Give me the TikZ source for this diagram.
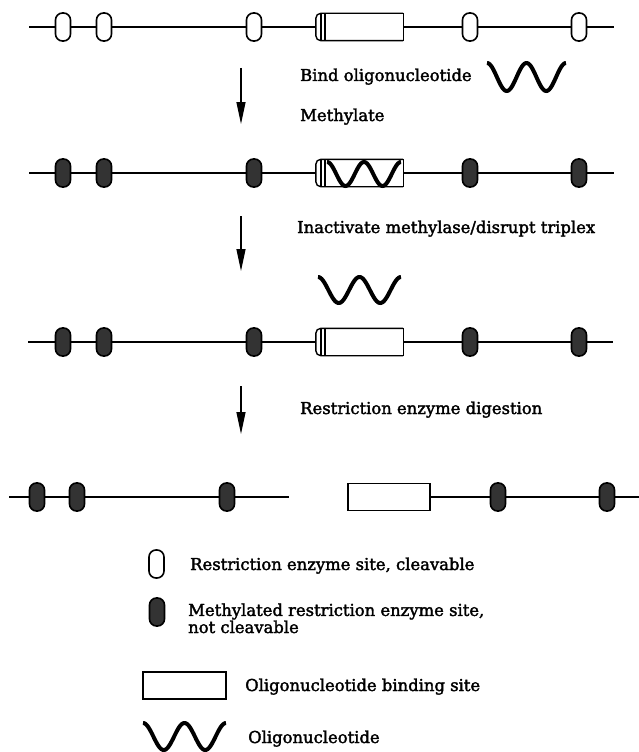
\documentclass[tikz,border=0pt]{standalone}
\usepackage{fontspec}
\setmainfont{DejaVu Serif}[FakeBold=2]
\usetikzlibrary{arrows.meta}
\newcommand\oligo[4]{\draw[wave] plot[domain=0:1,samples=90,smooth,variable=\u] ({#1+#3*\u},{#2+#4*(1-cos(720*\u))/2});}
\newcommand\capbox[1]{%
  \draw[boxline, rounded corners=5pt] (#1.north east) -- (#1.north west) -- (#1.south west) -- (#1.south east);
  \draw[boxline] (#1.south east) -- (#1.north east);
  \draw[boxline] ([xshift=5pt]#1.north west) -- ([xshift=5pt]#1.south west);
  \draw[boxline] ([xshift=9pt]#1.north west) -- ([xshift=9pt]#1.south west);}
\begin{document}
\begin{tikzpicture}[x=1pt,y=-1pt,
  dna/.style={line width=2.7pt},
  site/.style={draw, line width=1.6pt, fill=white, rounded corners=7pt, minimum width=15pt, minimum height=28pt, inner sep=0pt},
  msite/.style={site, fill=black!80},
  bindbox/.style={minimum width=87pt, minimum height=27pt, inner sep=0pt, fill=white},
  plainbox/.style={draw, line width=1.4pt, fill=white, minimum width=82pt, minimum height=27pt, inner sep=0pt},
  boxline/.style={line width=1.4pt},
  wave/.style={line width=4pt},
  flow/.style={line width=1.3pt, -{Triangle[length=22pt,width=9pt]}},
  lbl/.style={anchor=base west, inner sep=0pt, font=\fontsize{16.4}{15.5}\selectfont},
]
\useasboundingbox[fill=white] (0,0) rectangle (639,752);

% ---------- row 1 ----------
\coordinate (r1L) at (29,27); \coordinate (r1R) at (614,27);
\draw[dna] (r1L) -- (r1R);
\node[site] (s11) at (63,27) {};
\node[site] (s12) at (104,27) {};
\node[site] (s13) at (254,27) {};
\node[bindbox] (b1) at (359.5,27) {};
\capbox{b1}
\node[site] (s14) at (470,27) {};
\node[site] (s15) at (579,27) {};

\coordinate (a1s) at (241,68); \coordinate (a1e) at (241,124);
\draw[flow] (a1s) -- (a1e);
\node[lbl] (t1) at (300,81) {Bind oligonucleotide};
\oligo{487}{63}{79}{28}
\node[lbl] (t2) at (300,121) {Methylate};

% ---------- row 2 ----------
\coordinate (r2L) at (29,173); \coordinate (r2R) at (614,173);
\draw[dna] (r2L) -- (r2R);
\node[msite] (s21) at (63,173) {};
\node[msite] (s22) at (104,173) {};
\node[msite] (s23) at (254,173) {};
\node[bindbox] (b2) at (359.5,173) {};
\oligo{327}{162}{74}{24}
\capbox{b2}
\node[msite] (s24) at (470,173) {};
\node[msite] (s25) at (579,173) {};

\coordinate (a2s) at (241,216); \coordinate (a2e) at (241,271);
\draw[flow] (a2s) -- (a2e);
\node[lbl] (t3) at (297,233) {Inactivate methylase/disrupt triplex};
\oligo{318}{277}{83}{26}

% ---------- row 3 ----------
\coordinate (r3L) at (28,342); \coordinate (r3R) at (613,342);
\draw[dna] (r3L) -- (r3R);
\node[msite] (s31) at (63,342) {};
\node[msite] (s32) at (104,342) {};
\node[msite] (s33) at (254,342) {};
\node[bindbox] (b3) at (359.5,342) {};
\capbox{b3}
\node[msite] (s34) at (470,342) {};
\node[msite] (s35) at (579,342) {};

\coordinate (a3s) at (241,386); \coordinate (a3e) at (241,434);
\draw[flow] (a3s) -- (a3e);
\node[lbl] (t4) at (300,414) {Restriction enzyme digestion};

% ---------- row 4 ----------
\coordinate (r4L) at (9,497); \coordinate (r4M) at (289,497); \coordinate (r4R) at (639,497);
\draw[dna] (r4L) -- (r4M);
\node[msite] (s41) at (37,497) {};
\node[msite] (s42) at (77,497) {};
\node[msite] (s43) at (227,497) {};
\node[plainbox] (b4) at (389,497) {};
\draw[dna] (b4.east) -- (r4R);
\node[msite] (s44) at (498,497) {};
\node[msite] (s45) at (607,497) {};

% ---------- legend ----------
\node[site] (k1) at (156.5,564) {};
\node[lbl] (k1t) at (190,570) {Restriction enzyme site, cleavable};
\node[msite] (k2) at (157,612) {};
\node[lbl, align=left] (k2t) at (188,633) {Methylated restriction enzyme site,\\not cleavable};
\node[plainbox, minimum width=83pt] (k3) at (184.5,685.5) {};
\node[lbl] (k3t) at (245,691) {Oligonucleotide binding site};
\oligo{143}{723}{83}{27}
\node[lbl] (k4t) at (248,743) {Oligonucleotide};
\end{tikzpicture}
\end{document}
